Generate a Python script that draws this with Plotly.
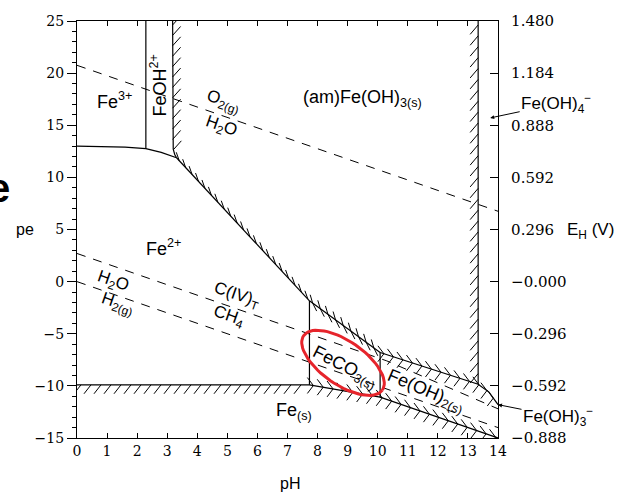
import math
import plotly.graph_objects as go

# ---------------- axis data ----------------
ph_ticks = list(range(0, 15))
pe_ticks = [-15, -10, -5, 0, 5, 10, 15, 20, 25]
eh_labels = ["\u22120.888", "\u22120.592", "\u22120.296", "\u22120.000",
             "0.296", "0.592", "0.888", "1.184", "1.480"]

# ---------------- phase boundaries (pH, pe) ----------------
fe3_fe2_ph = [0.0, 1.0, 1.6, 2.29, 2.8, 3.31]
fe3_fe2_pe = [13.0, 12.98, 12.9, 12.75, 12.4, 11.88]

fe3_feoh_ph = [2.29, 2.29]
fe3_feoh_pe = [12.75, 25.0]

feoh_feoh3_ph = [3.18, 3.18, 3.2, 3.25, 3.31]
feoh_feoh3_pe = [25.0, 13.4, 12.7, 12.2, 11.88]

fe2_feoh3_ph = [3.31, 7.73]
fe2_feoh3_pe = [11.88, -1.84]

feco3_feoh3_ph = [7.73, 10.08]
feco3_feoh3_pe = [-1.84, -6.8]

feoh2_feoh3_ph = [10.08, 13.34, 13.7, 14.0]
feoh2_feoh3_pe = [-6.8, -9.84, -10.6, -11.8]

feoh3_feoh4_ph = [13.34, 13.34]
feoh3_feoh4_pe = [25.0, -9.84]

fe2_feco3_ph = [7.73, 7.73]
fe2_feco3_pe = [-1.84, -9.9]

feco3_feoh2_ph = [10.08, 10.08]
feco3_feoh2_pe = [-6.8, -11.08]

fe_s_ph = [0.0, 7.73, 10.08, 14.0]
fe_s_pe = [-9.9, -9.9, -11.08, -15.0]

# ---------------- water / carbon stability lines ----------------
o2_ph = [0.0, 14.0]
o2_pe = [20.75, 6.75]
h2_ph = [0.0, 14.0]
h2_pe = [0.0, -14.0]
co2_ph = [0.0, 10.3, 14.0]
co2_pe = [2.7, -7.6, -12.2]

# ---------------- geometry helpers ----------------
L, R, T, B = 77, 126, 17, 56
W, H = 624, 494
PW, PH = W - L - R, H - T - B
XS = PW / 14.0     # px per pH unit
YS = PH / 40.0     # px per pe unit


def hatch(ph, pe, dx, dy, step=10.0, start=4.0):
    px = [p * XS for p in ph]
    py = [-q * YS for q in pe]
    ox, oy = [], []
    s, cum = start, 0.0
    for i in range(len(px) - 1):
        x0, y0, x1, y1 = px[i], py[i], px[i + 1], py[i + 1]
        seg = math.hypot(x1 - x0, y1 - y0)
        while seg > 0 and s <= cum + seg:
            t = (s - cum) / seg
            bx, by = x0 + t * (x1 - x0), y0 + t * (y1 - y0)
            ox += [bx / XS, (bx + dx) / XS, None]
            oy += [-by / YS, -(by + dy) / YS, None]
            s += step
        cum += seg
    return ox, oy


fig = go.Figure()

solid = dict(color="black", width=1.2)
for xs, ys in [(fe3_fe2_ph, fe3_fe2_pe), (fe3_feoh_ph, fe3_feoh_pe),
               (feoh_feoh3_ph, feoh_feoh3_pe), (fe2_feoh3_ph, fe2_feoh3_pe),
               (feco3_feoh3_ph, feco3_feoh3_pe), (feoh2_feoh3_ph, feoh2_feoh3_pe),
               (feoh3_feoh4_ph, feoh3_feoh4_pe), (fe2_feco3_ph, fe2_feco3_pe),
               (feco3_feoh2_ph, feco3_feoh2_pe), (fe_s_ph, fe_s_pe)]:
    fig.add_trace(go.Scatter(x=xs, y=ys, mode="lines", line=solid,
                             showlegend=False, hoverinfo="skip"))

dashed = dict(color="black", width=1, dash="9px,8px")
for xs, ys in [(o2_ph, o2_pe), (h2_ph, h2_pe), (co2_ph, co2_pe)]:
    fig.add_trace(go.Scatter(x=xs, y=ys, mode="lines", line=dashed,
                             showlegend=False, hoverinfo="skip"))

# hatching on the solid-phase sides
hx, hy = [], []
specs = [
    (feoh_feoh3_ph, feoh_feoh3_pe, 8, -9, 10.5),
    (fe2_feoh3_ph, fe2_feoh3_pe, -3, -8.5, 9.5),
    (feoh3_feoh4_ph, feoh3_feoh4_pe, -8, 9.5, 11),
    (fe_s_ph[:2], fe_s_pe[:2], -7, 9, 10),
    (feco3_feoh3_ph, feco3_feoh3_pe, -2.5, -8.5, 9.5),
    (feco3_feoh3_ph, feco3_feoh3_pe, 4, 8, 9.5),
    (feoh2_feoh3_ph, feoh2_feoh3_pe, -6, -8, 10),
    (feoh2_feoh3_ph, feoh2_feoh3_pe, -6, 8, 10),
    (fe_s_ph[1:], fe_s_pe[1:], -6, -8, 10),
    (fe_s_ph[1:], fe_s_pe[1:], -6, 8, 10),
]
for xs, ys, dx, dy, st in specs:
    a, b = hatch(xs, ys, dx, dy, step=st)
    hx += a
    hy += b
fig.add_trace(go.Scatter(x=hx, y=hy, mode="lines",
                         line=dict(color="black", width=1),
                         showlegend=False, hoverinfo="skip"))

# red hand-drawn ellipse around FeCO3(s)
cx, cy = 8.846, -7.79
ea, eb, ang = 48.0, 22.0, math.radians(35)
ex, ey = [], []
for k in range(73):
    t = 2 * math.pi * k / 72
    u, v = ea * math.cos(t), eb * math.sin(t)
    px = u * math.cos(ang) - v * math.sin(ang)
    py = u * math.sin(ang) + v * math.cos(ang)
    ex.append(cx + px / XS)
    ey.append(cy - py / YS)
fig.add_trace(go.Scatter(x=ex, y=ey, mode="lines",
                         line=dict(color="#e6242b", width=3),
                         showlegend=False, hoverinfo="skip"))

# dummy trace for right axis
fig.add_trace(go.Scatter(x=[None], y=[None], yaxis="y2", showlegend=False))

SANS = "Liberation Sans, Arial, sans-serif"
SERIF = "DejaVu Serif, serif"


def lab(x, y, text, size=18, angle=0):
    fig.add_annotation(x=x, y=y, text=text, showarrow=False, textangle=angle,
                       xanchor="center", yanchor="middle",
                       font=dict(family=SANS, size=size, color="black"))


lab(1.26, 17.4, "Fe<sup>3+</sup>")
lab(2.71, 18.86, "FeOH<sup>2+</sup>", size=18, angle=-90)
lab(4.87, 17.2, "O<sub>2(g)</sub>", size=17, angle=19)
lab(4.8, 14.8, "H<sub>2</sub>O", size=17, angle=19)
lab(9.51, 17.6, "(am)Fe(OH)<sub>3(s)</sub>")
lab(2.89, 3.3, "Fe<sup>2+</sup>")
lab(1.2, 0.0, "H<sub>2</sub>O", size=17, angle=19)
lab(1.33, -2.1, "H<sub>2(g)</sub>", size=17, angle=19)
lab(5.32, -1.4, "C(IV)<sub>T</sub>", size=17, angle=19)
lab(5.05, -3.4, "CH<sub>4</sub>", size=17, angle=19)
lab(8.91, -8.2, "FeCO<sub>3(s)</sub>", angle=27)
lab(11.6, -10.5, "Fe(OH)<sub>2(s)</sub>", angle=23)
lab(7.2, -12.5, "Fe<sub>(s)</sub>")

fig.add_annotation(x=13.74, y=15.7, text="Fe(OH)<sub>4</sub><sup>\u2212</sup>",
                   showarrow=True, ax=66, ay=-14, arrowhead=2, arrowsize=0.8,
                   arrowwidth=1, arrowcolor="black",
                   font=dict(family=SANS, size=17, color="black"))
fig.add_annotation(x=14.0, y=-11.8, text="Fe(OH)<sub>3</sub><sup>\u2212</sup>",
                   showarrow=True, ax=60, ay=12, arrowhead=2, arrowsize=0.8,
                   arrowwidth=1, arrowcolor="black",
                   font=dict(family=SANS, size=17, color="black"))

# axis titles
fig.add_annotation(xref="paper", yref="paper", x=(290 - L) / PW, y=(H - B - 484) / PH,
                   xanchor="center", yanchor="middle",
                   text="pH", showarrow=False,
                   font=dict(family=SANS, size=16, color="black"))
fig.add_annotation(xref="paper", yref="paper", x=(25 - L) / PW, y=(H - B - 228) / PH,
                   xanchor="center", yanchor="middle",
                   text="pe", showarrow=False,
                   font=dict(family=SANS, size=16, color="black"))
fig.add_annotation(xref="paper", yref="paper", x=(565 - L) / PW, y=(H - B - 229) / PH,
                   xanchor="left", yanchor="middle",
                   text="E<sub>H</sub> (V)", showarrow=False,
                   font=dict(family=SANS, size=17, color="black"))
fig.add_annotation(xref="paper", yref="paper", x=(-14 - L) / PW, y=(H - B - 186) / PH,
                   text="<b>e</b>", showarrow=False,
                   font=dict(family=SANS, size=40, color="black"))

TICKF = dict(family=SERIF, size=14, color="black")
fig.update_layout(
    width=W, height=H,
    margin=dict(l=L, r=R, t=T, b=B),
    plot_bgcolor="white", paper_bgcolor="white",
    showlegend=False,
    xaxis=dict(range=[0, 14], tickmode="array", tickvals=ph_ticks,
               ticks="inside", ticklen=5, tickcolor="black",
               showline=True, linecolor="black", linewidth=1.2, mirror="ticks",
               showgrid=False, zeroline=False, tickfont=TICKF),
    yaxis=dict(range=[-15, 25], tickmode="array", tickvals=pe_ticks,
               ticks="outside", ticklen=9, tickcolor="black",
               minor=dict(ticks="outside", ticklen=4, tickmode="linear",
                          tick0=0, dtick=1, tickcolor="black"),
               showline=True, linecolor="black", linewidth=1.2,
               showgrid=False, zeroline=False, tickfont=TICKF),
    yaxis2=dict(range=[-15, 25], overlaying="y", side="right",
                tickmode="array", tickvals=pe_ticks, ticktext=eh_labels,
                ticks="inside", ticklen=8, tickcolor="black",
                ticklabelstandoff=9,
                showline=True, linecolor="black", linewidth=1.2,
                showgrid=False, zeroline=False,
                tickfont=dict(family=SERIF, size=15, color="black")),
)

fig.write_html("out.html", config={"displayModeBar": False},
               post_script="document.body.style.margin='0px';"
                           "document.body.style.padding='0px';")
